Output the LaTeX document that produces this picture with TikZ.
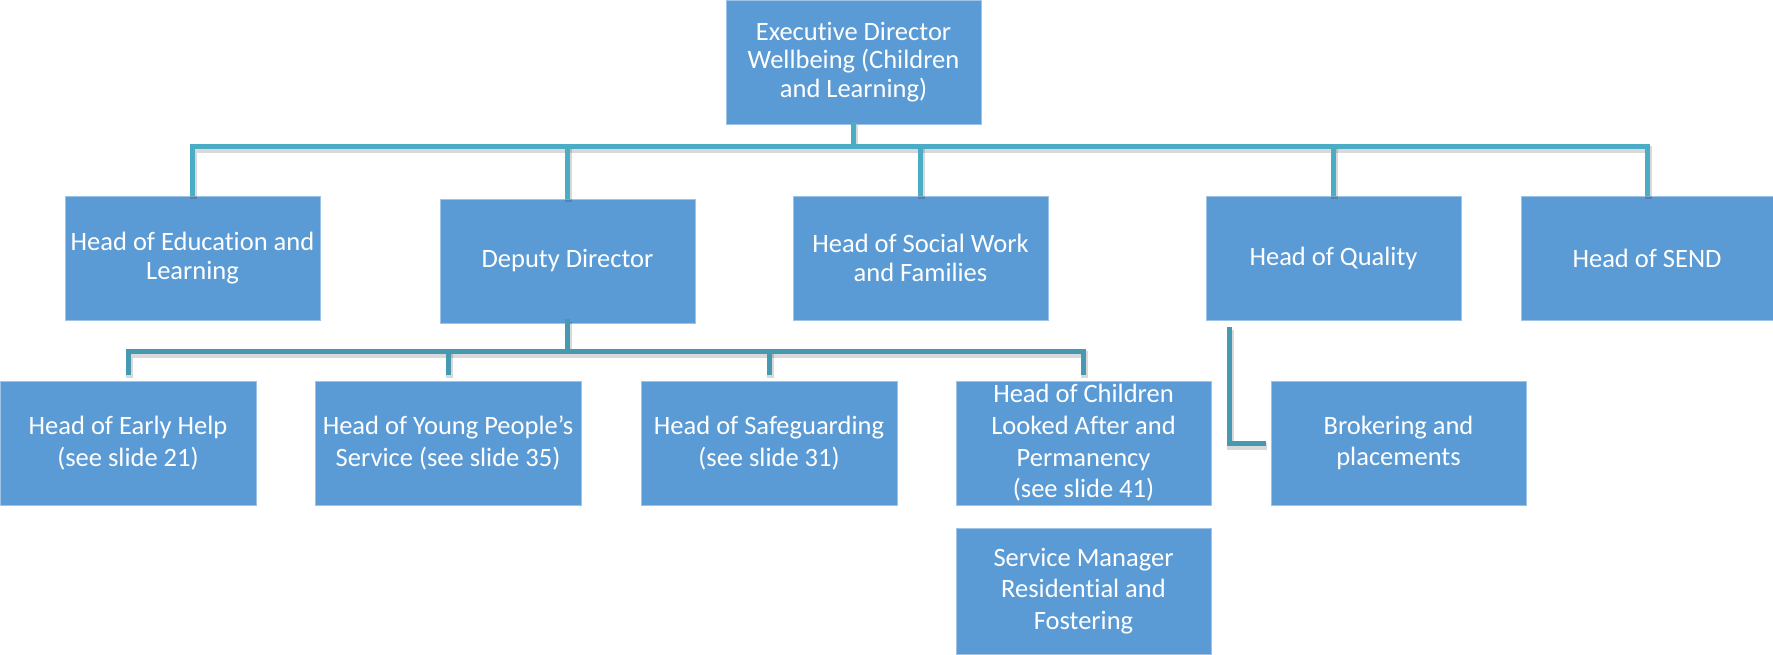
\documentclass[tikz,border=0pt]{standalone}
\usepackage{fontspec}
\setmainfont{Carlito}[Ligatures=NoCommon]
\definecolor{boxblue}{HTML}{5B9BD5}
\definecolor{boxedge}{HTML}{9DC3E6}
\definecolor{connA}{HTML}{4BACC6}
\definecolor{connB}{HTML}{4699B1}
\begin{document}
\begin{tikzpicture}[x=1pt,y=-1pt,
  orgbox/.style={rectangle, fill=boxblue, draw=boxedge, line width=1pt, inner sep=0pt,
    text=white, align=center, minimum width=255pt, minimum height=124pt,
    font=\fontsize{26.5}{28.3}\selectfont},
  loose/.style={font=\fontsize{26.5}{31.7}\selectfont},
  conn/.style={line width=5pt, line join=miter,
    preaction={draw=black, opacity=0.15, line width=7pt, transform canvas={xshift=1pt,yshift=-3pt}}},
  connone/.style={conn, draw=connA},
  conntwo/.style={conn, draw=connB}]
\useasboundingbox (0,0) rectangle (1773,654);

% boxes
\node[orgbox] (exec) at (853.5,62) {Executive Director\\Wellbeing (Children\\and Learning)};
\node[orgbox] (edu) at (192.5,258) {Head of Education and\\Learning};
\node[orgbox] (dep) at (567.5,261) {Deputy Director};
\node[orgbox] (soc) at (920.5,258) {Head of Social Work\\and Families};
\node[orgbox] (qual) at (1333.5,258) {Head of Quality};
\node[orgbox, minimum width=252pt] (send) at (1647,258) {Head of SEND};

\node[orgbox, loose, minimum width=256pt] (early) at (128,443) {Head of Early Help\\(see slide 21)};
\node[orgbox, loose, minimum width=266pt] (young) at (448,443) {Head of Young People’s\\Service (see slide 35)};
\node[orgbox, loose, minimum width=256pt] (safe) at (769,443) {Head of Safeguarding\\(see slide 31)};
\node[orgbox, loose] (cla) at (1083.5,443) {Head of Children\\Looked After and\\Permanency\\(see slide 41)};
\node[orgbox, loose, minimum height=126pt] (svc) at (1083.5,591) {Service Manager\\Residential and\\Fostering};
\node[orgbox, loose] (brok) at (1398.5,443) {Brokering and\\placements};

% coordinates
\coordinate (bar1) at (0,146);
\coordinate (bar2) at (0,351);
\coordinate (qc) at (1229,327);

% top tier connectors
\draw[connone] ([yshift=3pt]exec.south) -- (exec.south |- bar1);
\draw[connone] (edu.north) -- (edu.north |- bar1) -- (send.north |- bar1) -- (send.north);
\draw[connone] (dep.north) -- (dep.north |- bar1);
\draw[connone] (soc.north) -- (soc.north |- bar1);
\draw[connone] (qual.north) -- (qual.north |- bar1);

% second tier connectors
\draw[conntwo] ([yshift=5pt]dep.south) -- (dep.south |- bar2);
\draw[conntwo] ([yshift=6pt]early.north) -- (early.north |- bar2) -- (cla.north |- bar2) -- ([yshift=6pt]cla.north);
\draw[conntwo] ([yshift=6pt]young.north) -- (young.north |- bar2);
\draw[conntwo] ([yshift=6pt]safe.north) -- (safe.north |- bar2);

% quality to brokering
\draw[conntwo] (qc) -- (qc |- brok.west) -- ([xshift=-5pt]brok.west);
\end{tikzpicture}
\end{document}
